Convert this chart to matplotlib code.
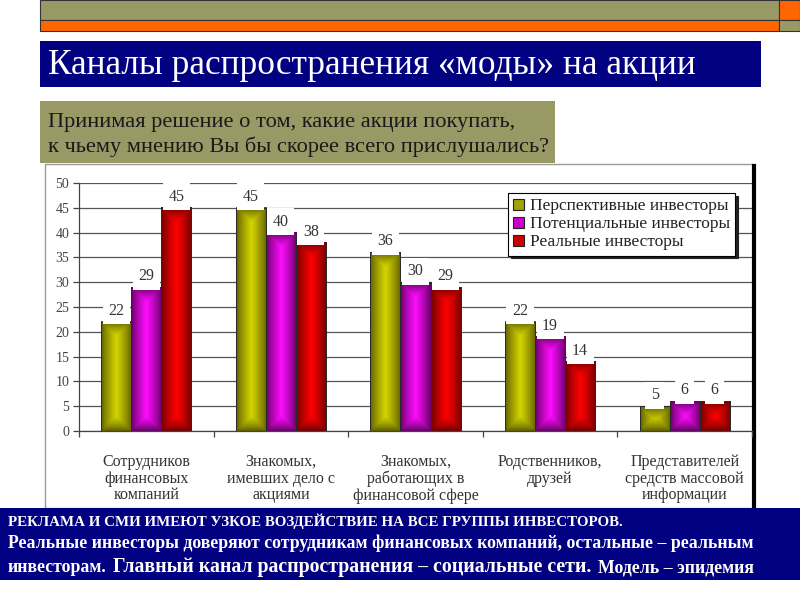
import numpy as np
import matplotlib
matplotlib.use("Agg")
import matplotlib.pyplot as plt
from matplotlib.patches import Rectangle, Patch
from matplotlib.lines import Line2D
import matplotlib.transforms as mtransforms
from matplotlib import font_manager

# ---------------- data ----------------
categories = ["Сотрудников\nфинансовых\nкомпаний",
              "Знакомых,\nимевших дело с\nакциями",
              "Знакомых,\nработающих в\nфинансовой сфере",
              "Родственников,\nдрузей",
              "Представителей\nсредств массовой\nинформации"]
series_names = ["Перспективные инвесторы", "Потенциальные инвесторы", "Реальные инвесторы"]
perspective = [22, 45, 36, 22, 5]
potential = [29, 40, 30, 19, 6]
real = [45, 38, 29, 14, 6]
yticks = [0, 5, 10, 15, 20, 25, 30, 35, 40, 45, 50]

title = "Каналы распространения «моды» на акции"
subtitle = ["Принимая решение о том, какие акции покупать,",
            "к чьему мнению Вы бы скорее всего прислушались?"]
note1 = "РЕКЛАМА И СМИ ИМЕЮТ УЗКОЕ ВОЗДЕЙСТВИЕ НА ВСЕ ГРУППЫ ИНВЕСТОРОВ."
note2 = "Реальные инвесторы доверяют сотрудникам финансовых компаний, остальные – реальным"
note3 = ["инвесторам.", "Главный канал распространения – социальные сети.", "Модель – эпидемия"]

# ---------------- style ----------------
W, H = 800, 600
available = {f.name for f in font_manager.fontManager.ttflist}
SERIF = [f for f in ["Liberation Serif", "Times New Roman", "DejaVu Serif"] if f in available] or ["serif"]
plt.rcParams["font.family"] = SERIF
NAVY = "#000080"
OLIVE = "#999966"
ORANGE = "#FF6600"
edge_cols = [(0.36, 0.36, 0.0), (0.38, 0.0, 0.38), (0.42, 0.0, 0.0)]
center_cols = [(0.84, 0.84, 0.0), (1.0, 0.05, 1.0), (1.0, 0.0, 0.0)]
legend_cols = ["#A3A300", "#CC00CC", "#CC0000"]

fig = plt.figure(figsize=(W / 100, H / 100), dpi=100)
fig.patch.set_facecolor("white")


def rect(x0, y0, x1, y1, fc, ec="none", lw=0, z=1):
    r = Rectangle((x0 / W, 1 - y1 / H), (x1 - x0) / W, (y1 - y0) / H,
                  transform=fig.transFigure, facecolor=fc, edgecolor=ec,
                  linewidth=lw, zorder=z)
    fig.add_artist(r)
    return r


def fline(xs, ys, color, lw, z=1):
    fig.add_artist(Line2D([x / W for x in xs], [1 - y / H for y in ys],
                          transform=fig.transFigure, color=color, lw=lw, zorder=z))


renderer = fig.canvas.get_renderer()


def fit(t, width_px):
    bb = t.get_window_extent(renderer)
    t.set_fontsize(t.get_fontsize() * width_px / bb.width)
    return t


# ---------------- decorative bands ----------------
rect(40, 0, 779, 19.5, OLIVE, "#333333", 0.8)
rect(40, 19.5, 779, 31, ORANGE, "#333333", 0.8)
rect(779, 0, 800, 19.5, ORANGE, "#333333", 0.8)
rect(779, 19.5, 800, 31, OLIVE, "#333333", 0.8)

# title box
rect(40, 41, 761, 87, NAVY)
t = fig.text(48 / W, 1 - 65 / H, title, color="white",
             fontsize=20, va="center", ha="left", zorder=3)
fit(t, 649)

# subtitle box
rect(40, 101, 555, 163, OLIVE)
s1 = fig.text(48 / W, 1 - 127 / H, subtitle[0], color="#1a1a1a",
              fontsize=12, va="baseline", ha="left", zorder=3)
s2 = fig.text(48 / W, 1 - 152 / H, subtitle[1], color="#1a1a1a",
              fontsize=12, va="baseline", ha="left", zorder=3)
fit(s2, 500)
s1.set_fontsize(s2.get_fontsize())

# chart frame
rect(45, 164, 753, 508, "white", "#9a9a9a", 1.0, z=-5)
fline([754, 754], [166, 508], "black", 3, z=-4)

# ---------------- axes ----------------
ax = fig.add_axes([79 / W, 1 - 431 / H, (752 - 79) / W, (431 - 183) / H])
ax.patch.set_alpha(0)
n = len(categories)
x = np.arange(n)
bw = 0.223
series = [perspective, potential, real]
px_per_x = (752 - 79) / n
px_per_y = (431 - 183) / 50.0

for j, vals in enumerate(series):
    ec = np.array(edge_cols[j])
    cc = np.array(center_cols[j])
    for i, v in enumerate(vals):
        cx = x[i] + (j - 1) * bw
        x0, x1 = cx - bw / 2, cx + bw / 2
        wpx = bw * px_per_x
        hpx = v * px_per_y
        nx = 60
        ny = max(4, int(hpx * 2))
        u = (np.arange(nx) + 0.5) / nx * wpx
        w = (np.arange(ny) + 0.5) / ny * hpx
        U, Wv = np.meshgrid(u, w)
        d = np.minimum.reduce([U, wpx - U, Wv, hpx - Wv])
        tt = np.clip(d / (wpx / 2), 0, 1) ** 0.85
        img = ec[None, None, :] + (cc - ec)[None, None, :] * tt[..., None]
        ax.imshow(img, extent=(x0, x1, 0, v), origin="lower", aspect="auto",
                  interpolation="bilinear", zorder=2)
        ax.add_patch(Rectangle((x0, 0), bw, v, facecolor="none",
                               edgecolor="#2a2a2a", lw=0.7, zorder=3))
        ax.annotate(str(v), (cx, v), xytext=(0, 11), textcoords="offset pixels",
                    ha="center", va="center", fontsize=11.5,
                    color="#333333", zorder=4,
                    bbox=dict(boxstyle="square,pad=0.35", fc="white", ec="none"))

ax.set_xlim(-0.5, n - 0.5)
ax.set_ylim(0, 50)
ax.set_yticks(yticks)
ax.set_yticklabels([str(v) for v in yticks], fontsize=10, color="#444444")
ax.yaxis.grid(True, color="#555555", lw=0.9, zorder=0)
ax.set_axisbelow(True)
ax.set_xticks(np.arange(-0.5, n, 1.0))
ax.set_xticklabels([])
ax.tick_params(axis="both", direction="out", length=4, color="#444444", width=0.9)
ax.tick_params(axis="y", pad=3)
for side in ["top", "right"]:
    ax.spines[side].set_visible(False)
for side in ["left", "bottom"]:
    ax.spines[side].set_color("#444444")
    ax.spines[side].set_linewidth(0.9)

blend = mtransforms.blended_transform_factory(ax.transData, fig.transFigure)
for i, lab in enumerate(categories):
    ax.text(x[i], 1 - 454 / H, lab, transform=blend, ha="center", va="top",
            fontsize=11.5, color="#333333", linespacing=1.05)

handles = [Patch(facecolor=c, edgecolor="#222222", lw=0.8) for c in legend_cols]
leg = ax.legend(handles, series_names, loc="upper left",
                bbox_to_anchor=(508 / W, 1 - 193 / H), bbox_transform=fig.transFigure,
                prop={"size": 12.5}, frameon=True, fancybox=False,
                shadow={"color": "#222222", "alpha": 1.0},
                handlelength=0.6, handleheight=0.6, handletextpad=0.35,
                labelspacing=0.12, borderpad=0.3, borderaxespad=0)
leg.get_frame().set_edgecolor("black")
leg.get_frame().set_linewidth(0.8)
leg.set_zorder(6)
for txt in leg.get_texts():
    txt.set_color("#222222")

# ---------------- bottom note ----------------
rect(0, 508, 800, 580, NAVY, z=2)
b1 = fig.text(8 / W, 1 - 526 / H, note1, color="white", weight="bold",
              fontsize=10, va="baseline", ha="left", zorder=3)
fit(b1, 617)
b2 = fig.text(8 / W, 1 - 548 / H, note2, color="white", weight="bold",
              fontsize=10, va="baseline", ha="left", zorder=3)
fit(b2, 746)
small = b2.get_fontsize()
p1 = fig.text(8 / W, 1 - 572 / H, note3[0], color="white", weight="bold",
              fontsize=small, va="baseline", ha="left", zorder=3)
p2 = fig.text(142 / W, 1 - 572 / H, note3[1], color="white", weight="bold",
              fontsize=10, va="baseline", ha="left", zorder=3)
p3 = fig.text(577 / W, 1 - 572 / H, note3[2], color="white", weight="bold",
              fontsize=small, va="baseline", ha="left", zorder=3)
e1 = p1.get_window_extent(renderer).x1
e3 = p3.get_window_extent(renderer).width
start2 = e1 + 0.35 * small * 100 / 72
p3.set_x((754 - e3) / W)
fit(p2, (754 - e3 - 0.35 * small * 100 / 72) - start2)
p2.set_x(start2 / W)

fig.savefig("out.png", dpi=100, facecolor="white")
